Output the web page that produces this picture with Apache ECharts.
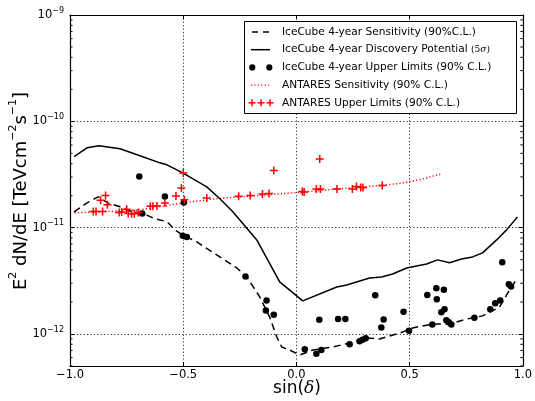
<!DOCTYPE html>
<html><head><meta charset="utf-8">
<script src="https://cdn.jsdelivr.net/npm/echarts@6/dist/echarts.min.js"></script>
<style>html,body{margin:0;padding:0;background:#fff}#c{width:535px;height:401px}</style>
</head><body><div id="c"></div>
<script>
// IceCube 4-year discovery potential (5 sigma)
const discS = [-0.982,-0.925,-0.872,-0.779,-0.691,-0.603,-0.572,-0.502,-0.396,-0.338,-0.281,-0.175,-0.074,0.028,0.178,0.222,0.323,0.376,0.425,0.487,0.575,0.623,0.676,0.729,0.778,0.822,0.884,0.928,0.976];
const discV = [4.65e-11,5.64e-11,5.89e-11,5.52e-11,4.74e-11,4.07e-11,3.90e-11,3.28e-11,2.42e-11,1.87e-11,1.41e-11,7.67e-12,3.09e-12,2.05e-12,2.77e-12,2.89e-12,3.36e-12,3.44e-12,3.67e-12,4.18e-12,4.56e-12,4.98e-12,4.67e-12,5.08e-12,5.31e-12,5.79e-12,7.67e-12,9.53e-12,1.26e-11];
// IceCube 4-year sensitivity (90% C.L.)
const sensS = [-0.982,-0.925,-0.876,-0.832,-0.779,-0.727,-0.682,-0.625,-0.572,-0.537,-0.502,-0.440,-0.352,-0.263,-0.219,-0.162,-0.118,-0.087,-0.065,-0.030,0.015,0.072,0.160,0.235,0.310,0.367,0.456,0.513,0.601,0.676,0.751,0.822,0.897,0.941,0.976];
const sensV = [1.41e-11,1.71e-11,1.95e-11,1.71e-11,1.57e-11,1.41e-11,1.38e-11,1.21e-11,1.14e-11,9.53e-12,8.55e-12,7.35e-12,5.55e-12,4.18e-12,3.44e-12,2.23e-12,1.44e-12,9.4e-13,7.55e-13,7.07e-13,6.34e-13,7.07e-13,7.55e-13,8.23e-13,9.17e-13,8.97e-13,1.02e-12,1.14e-12,1.24e-12,1.24e-12,1.38e-12,1.48e-12,1.79e-12,2.59e-12,3.36e-12];
// IceCube 4-year upper limits (90% C.L.)
const ulS = [-0.694,-0.581,-0.681,-0.497,-0.502,-0.484,-0.225,-0.132,-0.135,-0.100,0.037,0.088,0.110,0.101,0.184,0.216,0.235,0.279,0.292,0.306,0.348,0.385,0.375,0.473,0.497,0.578,0.618,0.651,0.620,0.640,0.654,0.600,0.662,0.673,0.684,0.786,0.856,0.878,0.900,0.909,0.938,0.948];
const ulV = [3.03e-11,1.96e-11,1.36e-11,1.72e-11,8.38e-12,8.15e-12,3.47e-12,2.06e-12,1.66e-12,1.52e-12,7.18e-13,6.53e-13,7.07e-13,1.36e-12,1.38e-12,1.38e-12,8.01e-13,8.53e-13,8.84e-13,9.11e-13,2.31e-12,1.37e-12,1.15e-12,1.62e-12,1.07e-12,2.33e-12,2.69e-12,2.60e-12,2.12e-12,1.60e-12,1.71e-12,1.23e-12,1.35e-12,1.29e-12,1.23e-12,1.42e-12,1.71e-12,1.95e-12,2.06e-12,4.73e-12,2.94e-12,2.79e-12];
// ANTARES sensitivity (90% C.L.)
const antSensS = [-0.98,-0.868,-0.691,-0.502,-0.338,-0.162,0.015,0.191,0.367,0.456,0.544,0.641];
const antSensV = [1.38e-11,1.41e-11,1.47e-11,1.71e-11,1.89e-11,2.01e-11,2.15e-11,2.32e-11,2.49e-11,2.61e-11,2.82e-11,3.21e-11];
// ANTARES upper limits (90% C.L.)
const antS = [-0.897,-0.885,-0.856,-0.865,-0.843,-0.835,-0.783,-0.772,-0.750,-0.743,-0.728,-0.716,-0.699,-0.645,-0.634,-0.616,-0.581,-0.532,-0.508,-0.500,-0.495,-0.396,-0.255,-0.204,-0.150,-0.121,-0.100,0.026,0.034,0.088,0.106,0.103,0.179,0.247,0.265,0.284,0.294,0.379];
const antV = [1.42e-11,1.42e-11,1.42e-11,1.81e-11,2.01e-11,1.64e-11,1.39e-11,1.40e-11,1.49e-11,1.36e-11,1.35e-11,1.35e-11,1.39e-11,1.59e-11,1.59e-11,1.60e-11,1.71e-11,1.99e-11,2.36e-11,3.26e-11,1.83e-11,1.90e-11,1.97e-11,2.01e-11,2.07e-11,2.09e-11,3.45e-11,2.19e-11,2.16e-11,2.31e-11,2.31e-11,4.42e-11,2.31e-11,2.31e-11,2.44e-11,2.39e-11,2.39e-11,2.49e-11];

const legendLabels = ['IceCube 4-year Sensitivity (90%C.L.)','IceCube 4-year Discovery Potential ','IceCube 4-year Upper Limits (90% C.L.)','ANTARES Sensitivity (90% C.L.)','ANTARES Upper Limits (90% C.L.)'];
const yMin = 5e-13, yMax = 1e-9;
const minorTicks = [];
for (let e = -13; e <= -10; e++) for (let m = 2; m <= 9; m++) { const v = m * Math.pow(10, e); if (v >= yMin * 0.999 && v < yMax) minorTicks.push(v); }

const FONT = 'DejaVu Sans';
const pair = (a, b) => a.map((x, i) => [x, b[i]]);
const minus = s => s.replace('-', '\u2212');
const plusPath = 'path://M3.25,0H4.75V3.25H8V4.75H4.75V8H3.25V4.75H0V3.25H3.25Z';

const chart = echarts.init(document.getElementById('c'), null, {renderer: 'canvas'});
const gridDot = {show: true, lineStyle: {color: '#333', width: 1, type: [1.2, 2.2]}};
const rows = [32, 49.7, 67.4, 85.1, 102.8];
const LX = 282;
const legendGraphic = [
  {type: 'rect', shape: {x: 244.5, y: 21.5, width: 272, height: 92}, style: {fill: '#fff', stroke: '#000', lineWidth: 1}, z: 100},
  {type: 'line', shape: {x1: 252, y1: rows[0], x2: 258, y2: rows[0]}, style: {stroke: '#000', lineWidth: 1.5}, z: 101},
  {type: 'line', shape: {x1: 263, y1: rows[0], x2: 269, y2: rows[0]}, style: {stroke: '#000', lineWidth: 1.5}, z: 101},
  {type: 'line', shape: {x1: 251, y1: rows[1], x2: 270, y2: rows[1]}, style: {stroke: '#000', lineWidth: 1.5}, z: 101},
  {type: 'circle', shape: {cx: 252.3, cy: rows[2], r: 3.1}, style: {fill: '#000'}, z: 101},
  {type: 'circle', shape: {cx: 269.3, cy: rows[2], r: 3.1}, style: {fill: '#000'}, z: 101},
  {type: 'line', shape: {x1: 251, y1: rows[3], x2: 269, y2: rows[3]}, style: {stroke: 'red', lineWidth: 1.3, lineDash: [1.2, 2.2]}, z: 101}
];
[252, 261, 270].forEach(cx => {
  legendGraphic.push({type: 'line', shape: {x1: cx - 3.5, y1: rows[4], x2: cx + 3.5, y2: rows[4]}, style: {stroke: 'red', lineWidth: 1.5}, z: 101});
  legendGraphic.push({type: 'line', shape: {x1: cx, y1: rows[4] - 3.5, x2: cx, y2: rows[4] + 3.5}, style: {stroke: 'red', lineWidth: 1.5}, z: 101});
});
legendLabels.forEach((t, i) => {
  let text = '{a|' + t + '}';
  if (i === 1) text += '{m|(5}{g|\u03c3}{m|)}';
  legendGraphic.push({type: 'text', x: LX, y: rows[i], z: 101, style: {
    text: text, verticalAlign: 'middle', align: 'left',
    rich: {a: {fontFamily: FONT, fontSize: 10.6, fill: '#000'}, m: {fontFamily: 'DejaVu Serif', fontSize: 9, fill: '#000'}, g: {fontFamily: 'DejaVu Serif', fontStyle: 'italic', fontSize: 9, fill: '#000'}}
  }});
});
const titleRich = {a: {fontFamily: FONT, fontSize: 18, fill: '#000', lineHeight: 22, verticalAlign: 'bottom'}, s: {fontFamily: FONT, fontSize: 11, fill: '#000', lineHeight: 14, verticalAlign: 'top'}};
legendGraphic.push({type: 'text', x: 19, y: 191, rotation: Math.PI / 2, style: {
  text: '{a|E}{s|2}{a| dN/dE [TeVcm}{s|\u22122}{a|s}{s|\u22121}{a|]}', align: 'center', verticalAlign: 'middle', rich: titleRich}});
legendGraphic.push({type: 'text', x: 297, y: 389, style: {
  text: '{a|sin(}{d|\u03b4}{a|)}', align: 'center', verticalAlign: 'middle',
  rich: {a: {fontFamily: FONT, fontSize: 17, fill: '#000'}, d: {fontFamily: 'DejaVu Serif', fontStyle: 'italic', fontSize: 17, fill: '#000'}}}});

const option = {
  animation: false,
  backgroundColor: '#fff',
  grid: {left: 70, top: 15, right: 12, bottom: 35, containLabel: false},
  xAxis: [
    {type: 'value', min: -1, max: 1, interval: 0.5, position: 'bottom',
     axisLine: {onZero: false, lineStyle: {color: '#000', width: 1.2}},
     axisTick: {inside: true, length: 4, lineStyle: {color: '#000', width: 1}},
     axisLabel: {margin: 3, fontFamily: FONT, fontSize: 11.5, color: '#000', formatter: v => minus(v.toFixed(1))},
     splitLine: gridDot},
    {type: 'value', min: -1, max: 1, interval: 0.5, position: 'top',
     axisLine: {onZero: false, lineStyle: {color: '#000', width: 1.2}},
     axisTick: {inside: true, length: 4, lineStyle: {color: '#000', width: 1}},
     axisLabel: {show: false}, splitLine: {show: false}}
  ],
  yAxis: [
    {type: 'log', logBase: 10, min: yMin, max: yMax, position: 'left',
     axisLine: {onZero: false, lineStyle: {color: '#000', width: 1.2}},
     axisTick: {inside: true, length: 4.5, lineStyle: {color: '#000', width: 1}},
     axisLabel: {margin: 6, formatter: v => {
        const l = Math.log10(v), e = Math.round(l);
        if (Math.abs(l - e) > 1e-6) return '';
        return '{b|10}{s|' + minus(String(e)) + '}';
      }, rich: {b: {fontFamily: FONT, fontSize: 11.5, color: '#000', lineHeight: 17}, s: {fontFamily: FONT, fontSize: 8, color: '#000', lineHeight: 9, verticalAlign: 'top'}}},
     splitLine: gridDot},
    {type: 'log', logBase: 10, min: yMin, max: yMax, position: 'right',
     axisLine: {onZero: false, lineStyle: {color: '#000', width: 1.2}},
     axisTick: {inside: true, length: 4.5, lineStyle: {color: '#000', width: 1}},
     axisLabel: {show: false}, splitLine: {show: false}}
  ],
  graphic: legendGraphic,
  series: [
    {type: 'custom', name: 'minorTicks', silent: true, clip: false, z: 5,
     data: minorTicks.map(v => [-1, v]),
     renderItem: (params, api) => {
       const v = api.value(1);
       const pL = api.coord([-1, v]), pR = api.coord([1, v]);
       return {type: 'group', children: [
         {type: 'line', shape: {x1: pL[0], y1: pL[1], x2: pL[0] + 2.5, y2: pL[1]}, style: {stroke: '#000', lineWidth: 1}},
         {type: 'line', shape: {x1: pR[0], y1: pR[1], x2: pR[0] - 2.5, y2: pR[1]}, style: {stroke: '#000', lineWidth: 1}}
       ]};
     }},
    {type: 'line', name: legendLabels[3], data: pair(antSensS, antSensV), showSymbol: false, symbol: 'none', z: 3,
     lineStyle: {color: 'red', width: 1.4, type: [1.2, 2.2]}},
    {type: 'line', name: legendLabels[0], data: pair(sensS, sensV), showSymbol: false, symbol: 'none', z: 4,
     lineStyle: {color: '#000', width: 1.5, type: [7, 4.5]}},
    {type: 'line', name: legendLabels[1], data: pair(discS, discV), showSymbol: false, symbol: 'none', z: 4,
     lineStyle: {color: '#000', width: 1.5}},
    {type: 'scatter', name: legendLabels[2], data: pair(ulS, ulV), symbol: 'circle', symbolSize: 6.5, z: 6,
     itemStyle: {color: '#000', opacity: 1}},
    {type: 'scatter', name: legendLabels[4], data: pair(antS, antV), symbol: plusPath, symbolSize: 8, z: 7,
     itemStyle: {color: 'red', opacity: 1}}
  ]
};
chart.setOption(option);
</script></body></html>
